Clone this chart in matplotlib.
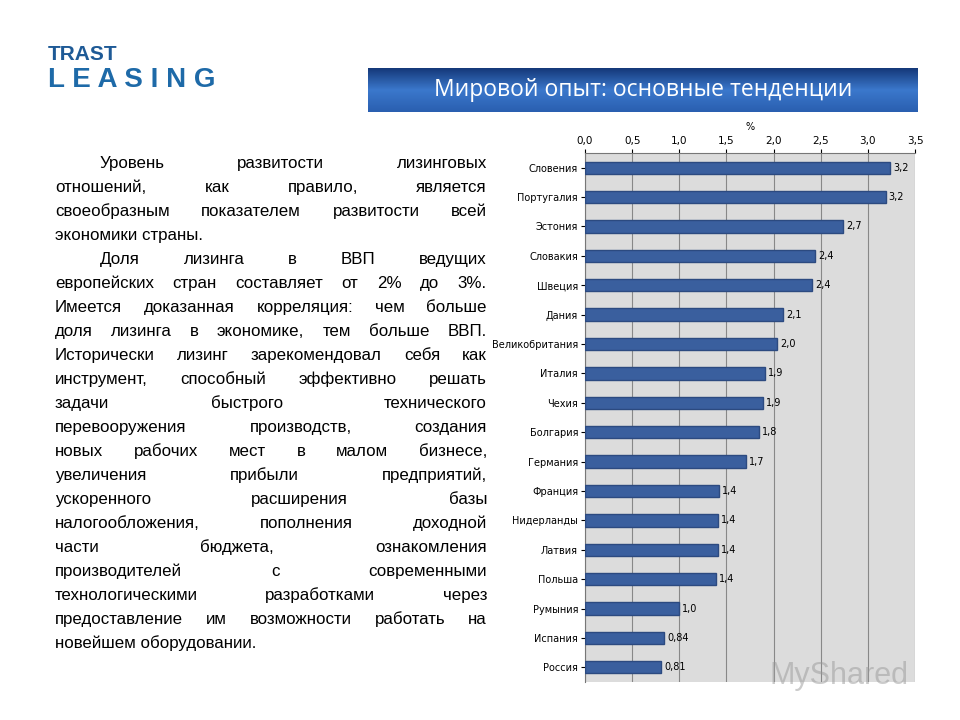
import matplotlib
matplotlib.use("Agg")
import matplotlib.pyplot as plt
import numpy as np

countries = ["Словения", "Португалия", "Эстония", "Словакия", "Швеция", "Дания",
             "Великобритания", "Италия", "Чехия", "Болгария", "Германия", "Франция",
             "Нидерланды", "Латвия", "Польша", "Румыния", "Испания", "Россия"]
values = [3.24, 3.19, 2.74, 2.44, 2.41, 2.10, 2.04, 1.91, 1.89, 1.85, 1.71, 1.42,
          1.41, 1.41, 1.39, 1.00, 0.84, 0.81]
value_labels = ["3,2", "3,2", "2,7", "2,4", "2,4", "2,1", "2,0", "1,9", "1,9", "1,8",
                "1,7", "1,4", "1,4", "1,4", "1,4", "1,0", "0,84", "0,81"]
xticks = [0, 0.5, 1.0, 1.5, 2.0, 2.5, 3.0, 3.5]
xtick_labels = ["0,0", "0,5", "1,0", "1,5", "2,0", "2,5", "3,0", "3,5"]

text_lines = [
    ("Уровень развитости лизинговых", True, True),
    ("отношений, как правило, является", False, True),
    ("своеобразным показателем развитости всей", False, True),
    ("экономики страны.", False, False),
    ("Доля лизинга в ВВП ведущих", True, True),
    ("европейских стран составляет от 2% до 3%.", False, True),
    ("Имеется доказанная корреляция: чем больше", False, True),
    ("доля лизинга в экономике, тем больше ВВП.", False, True),
    ("Исторически лизинг зарекомендовал себя как", False, True),
    ("инструмент, способный эффективно решать", False, True),
    ("задачи быстрого технического", False, True),
    ("перевооружения производств, создания", False, True),
    ("новых рабочих мест в малом бизнесе,", False, True),
    ("увеличения прибыли предприятий,", False, True),
    ("ускоренного расширения базы", False, True),
    ("налогообложения, пополнения доходной", False, True),
    ("части бюджета, ознакомления", False, True),
    ("производителей с современными", False, True),
    ("технологическими разработками через", False, True),
    ("предоставление им возможности работать на", False, True),
    ("новейшем оборудовании.", False, False),
]

W, H = 960, 720
fig = plt.figure(figsize=(9.6, 7.2), dpi=100)
fig.patch.set_facecolor("white")

# logo
fig.text(48 / W, 1 - 54 / H, "TRAST", fontsize=15, fontweight="bold", color="#1e5a96",
         family="Liberation Sans", va="center")
fig.text(48 / W, 1 - 80 / H, "L E A S I N G", fontsize=20, fontweight="bold", color="#1e6aa8",
         family="Liberation Sans", va="center")

# title banner with gradient
bax = fig.add_axes([368 / W, 1 - 112 / H, 550 / W, 44 / H])
grad = np.linspace(0, 1, 50).reshape(-1, 1)
cmap = matplotlib.colors.LinearSegmentedColormap.from_list("b", ["#15397a", "#3b78cc", "#2a5fb0"])
bax.imshow(grad, aspect="auto", cmap=cmap, extent=[0, 1, 0, 1])
bax.set_axis_off()
bax.text(0.5, 0.5, "Мировой опыт: основные тенденции", color="white", fontsize=16.5,
         family="Open Sans", ha="center", va="center", transform=bax.transAxes)

# justified paragraph
renderer = fig.canvas.get_renderer()
left, right, indent = 55 / W, 487 / W, 100 / W
y0, dy = 1 - 168 / H, 24 / H
fs = 12.2
for i, (line, ind, just) in enumerate(text_lines):
    y = y0 - i * dy
    x_start = indent if ind else left
    words = line.split()
    if not just or len(words) == 1:
        fig.text(x_start, y, line, fontsize=fs, family="Liberation Sans", va="baseline")
        continue
    arts = [fig.text(0, y, w, fontsize=fs, family="Liberation Sans", va="baseline") for w in words]
    widths = [a.get_window_extent(renderer).width / W for a in arts]
    gap = (right - x_start - sum(widths)) / (len(words) - 1)
    x = x_start
    for a, wd in zip(arts, widths):
        a.set_x(x)
        x += wd + gap

# bar chart
ax = fig.add_axes([585 / W, 1 - 682 / H, 330 / W, 529 / H])
ax.set_facecolor("#dcdcdc")
y = np.arange(len(countries))
ax.barh(y, values, height=0.42, color="#3a5f9e", edgecolor="#2c4a80", zorder=3)
for yi, v, lab in zip(y, values, value_labels):
    ax.text(v + 0.03, yi, lab, fontsize=7, family="DejaVu Sans", va="center", zorder=4)
ax.set_xlim(0, 3.5)
ax.set_ylim(len(countries) - 0.5, -0.5)
ax.set_yticks(y)
ax.set_yticklabels(countries, fontsize=7, family="DejaVu Sans")
ax.set_xticks(xticks)
ax.set_xticklabels(xtick_labels, fontsize=7.5, family="DejaVu Sans")
ax.xaxis.tick_top()
ax.xaxis.set_label_position("top")
ax.set_xlabel("%", fontsize=7, labelpad=4)
ax.grid(axis="x", color="#888888", linewidth=0.8, zorder=1)
ax.tick_params(length=3, pad=2)
for s in ["right", "bottom"]:
    ax.spines[s].set_visible(False)
for s in ["top", "left"]:
    ax.spines[s].set_color("#777777")

fig.text(770 / W, 1 - 676 / H, "MyShared", fontsize=22, color="#999999", alpha=0.5,
         family="Liberation Sans", va="center")

fig.savefig("out.png", dpi=100)
